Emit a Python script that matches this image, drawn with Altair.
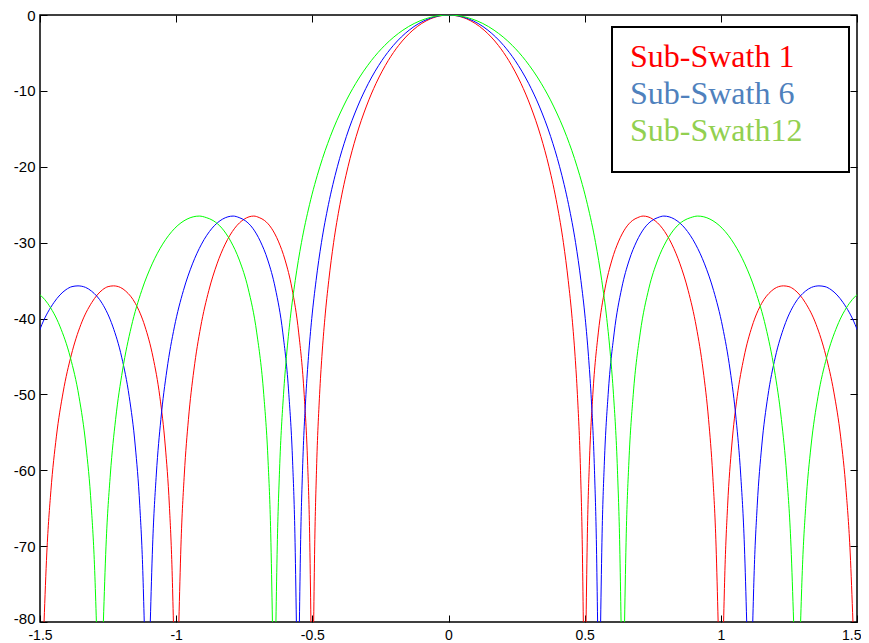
import altair as alt
import pandas as pd

# ---- series / labels -------------------------------------------------------
SERIES = ["Sub-Swath 1", "Sub-Swath 6", "Sub-Swath12"]
LINE_COLORS = ["#ff0000", "#0000ff", "#00ff00"]
LABEL_COLORS = ["#ff0000", "#4f81bd", "#92d050"]
X_TICKS = [-1.5, -1, -0.5, 0, 0.5, 1, 1.5]
Y_TICKS = [-80, -70, -60, -50, -40, -30, -20, -10, 0]

# ---- main lobe (right half, centre outward; left half is its mirror) -------
MAIN_DB = [0, -0.5, -2, -4, -6, -9, -12, -16, -20, -25, -30, -35, -40, -45, -50, -60, -70, -80]
RED_MAIN_X = [0, 0.0660, 0.1308, 0.1829, 0.2212, 0.2659, 0.3012, 0.3390, 0.3690, 0.3988,
              0.4219, 0.4397, 0.4540, 0.4649, 0.4733, 0.4847, 0.4913, 0.4951]
BLUE_MAIN_X = [0, 0.0729, 0.1446, 0.2022, 0.2446, 0.2940, 0.3331, 0.3749, 0.4081, 0.4410,
               0.4666, 0.4863, 0.5021, 0.5141, 0.5234, 0.5360, 0.5433, 0.5475]
GREEN_MAIN_X = [0, 0.0844, 0.1674, 0.2340, 0.2831, 0.3403, 0.3855, 0.4339, 0.4723, 0.5104,
                0.5400, 0.5628, 0.5811, 0.5950, 0.6058, 0.6204, 0.6288, 0.6337]

# ---- first side lobe (right side; left side mirrored) ----------------------
SIDE1_DB = [-80, -68.3, -58.9, -50.0, -41.9, -36.0, -32.3, -29.8, -28.1, -27.1, -26.7, -26.5,
            -26.6, -26.9, -28.1, -30.2, -32.8, -36.3, -41.1, -46.8, -53.3, -60.5, -70.0, -80]
RED_SIDE1_X = [0.5051, 0.5100, 0.5175, 0.5300, 0.5500, 0.5750, 0.6000, 0.6250, 0.6500, 0.6750,
               0.6950, 0.7150, 0.7325, 0.7500, 0.7850, 0.8200, 0.8500, 0.8800, 0.9100, 0.9350,
               0.9550, 0.9700, 0.9825, 0.9901]
BLUE_SIDE1_X = [0.5586, 0.5641, 0.5724, 0.5862, 0.6083, 0.6360, 0.6636, 0.6913, 0.7189, 0.7466,
                0.7687, 0.7908, 0.8101, 0.8295, 0.8682, 0.9069, 0.9401, 0.9733, 1.0065, 1.0341,
                1.0562, 1.0728, 1.0866, 1.0950]
GREEN_SIDE1_X = [0.6465, 0.6528, 0.6624, 0.6784, 0.7040, 0.7360, 0.7680, 0.8000, 0.8320, 0.8640,
                 0.8896, 0.9152, 0.9376, 0.9600, 1.0048, 1.0496, 1.0880, 1.1264, 1.1648, 1.1968,
                 1.2224, 1.2416, 1.2576, 1.2673]

# ---- second side lobe (right side; left side mirrored) ---------------------
SIDE2_DB = [-80, -73.2, -64.6, -56.8, -50.3, -45.1, -41.0, -38.0, -36.4, -35.9, -35.7, -35.8,
            -36.2, -37.9, -40.8, -44.8, -49.7, -55.6, -62.7, -70.9, -80]
RED_SIDE2_X = [1.0101, 1.0150, 1.0250, 1.0400, 1.0600, 1.0850, 1.1150, 1.1500, 1.1850, 1.2050,
               1.2300, 1.2500, 1.2700, 1.3100, 1.3500, 1.3850, 1.4150, 1.4400, 1.4600, 1.4750,
               1.4851]
BLUE_SIDE2_X = [1.1172, 1.1226, 1.1337, 1.1502, 1.1724, 1.2000, 1.2332, 1.2719, 1.3106, 1.3327,
                1.3604, 1.3825, 1.4046, 1.4489, 1.4931, 1.5318, 1.5650, 1.5926, 1.6148, 1.6314,
                1.6425]
GREEN_SIDE2_X = [1.2929, 1.2992, 1.3120, 1.3312, 1.3568, 1.3888, 1.4272, 1.4720, 1.5168, 1.5424,
                 1.5744, 1.6000, 1.6256, 1.6768, 1.7280, 1.7728, 1.8112, 1.8432, 1.8688, 1.8880,
                 1.9009]

# ---- build long table ------------------------------------------------------
rows = []


def add(series, seg, xs, ys):
    for xv, yv in zip(xs, ys):
        rows.append({"series": series, "seg": series + "|" + seg, "x": xv, "y": yv})


curves = [
    (SERIES[0], RED_MAIN_X, RED_SIDE1_X, RED_SIDE2_X),
    (SERIES[1], BLUE_MAIN_X, BLUE_SIDE1_X, BLUE_SIDE2_X),
    (SERIES[2], GREEN_MAIN_X, GREEN_SIDE1_X, GREEN_SIDE2_X),
]
for name, mx, s1, s2 in curves:
    add(name, "main", [-v for v in mx[:0:-1]] + mx, MAIN_DB[:0:-1] + MAIN_DB)
    add(name, "s1R", s1, SIDE1_DB)
    add(name, "s1L", [-v for v in s1], SIDE1_DB)
    add(name, "s2R", s2, SIDE2_DB)
    add(name, "s2L", [-v for v in s2], SIDE2_DB)

df = pd.DataFrame(rows)

W, H = 817, 607
XS = alt.Scale(domain=[-1.5, 1.5], nice=False, zero=False)
YS = alt.Scale(domain=[-80, 0], nice=False, zero=False)

color_expr = "datum.value == '%s' ? '%s' : (datum.value == '%s' ? '%s' : '%s')" % (
    SERIES[0], LABEL_COLORS[0], SERIES[1], LABEL_COLORS[1], LABEL_COLORS[2])

last_x = X_TICKS[-1]
first_y = Y_TICKS[0]

# trailing no-break spaces (kept by a zero-width end mark) widen the legend box
legend = alt.Legend(
    orient="none", legendX=572, legendY=12,
    title="\u00a0" * 106, titleOrient="bottom", titleFontSize=8, titlePadding=3,
    titleLimit=2000,
    labelFont="Liberation Serif", labelFontSize=32,
    labelColor={"expr": color_expr},
    labelExpr="datum.label + '\u00a0\u00a0\u00a0\u00a0\u200b'",
    labelLimit=600, labelOffset={"expr": "-28"},
    symbolType="circle", symbolSize=0, symbolStrokeWidth=0, symbolOpacity=0,
    padding=14, rowPadding=5,
    strokeColor="black", fillColor="white",
)

lines = alt.Chart().mark_line(clip=True, strokeWidth=1, interpolate="monotone").encode(
    x=alt.X("x:Q", scale=XS, axis=alt.Axis(
        orient="bottom", values=X_TICKS, labelExpr="datum.value + ''", labelFlush=False,
        labelAlign={"expr": "datum.value == %s ? 'right' : 'center'" % last_x},
        labelOffset={"expr": "datum.value == %s ? 4 : 0" % last_x},
        labelFont="Liberation Sans", labelFontSize=14, labelColor="black",
        labelOverlap=False, labelPadding=6, ticks=False, domain=False, grid=False, title=None)),
    y=alt.Y("y:Q", scale=YS, axis=alt.Axis(
        orient="left", values=Y_TICKS, labelExpr="datum.value + ''", labelPadding=5,
        labelOffset={"expr": "datum.value == %s ? -4 : 0" % first_y},
        labelFont="Liberation Sans", labelFontSize=15, labelColor="black",
        labelOverlap=False, ticks=False, domain=False, grid=False, title=None)),
    color=alt.Color("series:N", scale=alt.Scale(domain=SERIES, range=LINE_COLORS), legend=legend),
    detail="seg:N",
)


def tick_axis(orient, values, offset):
    return alt.Axis(orient=orient, values=values, offset=offset, labels=False, ticks=True,
                    tickSize=7, tickColor="black", tickWidth=1, domain=False, grid=False,
                    title=None)


ticks_a = alt.Chart().mark_line(opacity=0, clip=True).encode(
    x=alt.X("x:Q", scale=XS, axis=tick_axis("top", X_TICKS, -H)),
    y=alt.Y("y:Q", scale=YS, axis=tick_axis("right", Y_TICKS, -W)),
    detail="seg:N",
)
ticks_b = alt.Chart().mark_line(opacity=0, clip=True).encode(
    x=alt.X("x:Q", scale=XS, axis=tick_axis("bottom", X_TICKS, -H)),
    y=alt.Y("y:Q", scale=YS, axis=tick_axis("left", Y_TICKS, -W)),
    detail="seg:N",
)

chart = (
    alt.layer(ticks_a, ticks_b, lines, data=df)
    .resolve_axis(x="independent", y="independent")
    .properties(width=W, height=H, autosize=alt.AutoSizeParams(type="none"),
                padding={"left": 32, "top": 7, "right": 4, "bottom": 21},
                background="white")
    .configure_view(stroke="black", strokeWidth=1.5)
    .configure_legend(strokeWidth=2)
)

chart.save("out.html", embed_options={"renderer": "svg", "actions": False})
